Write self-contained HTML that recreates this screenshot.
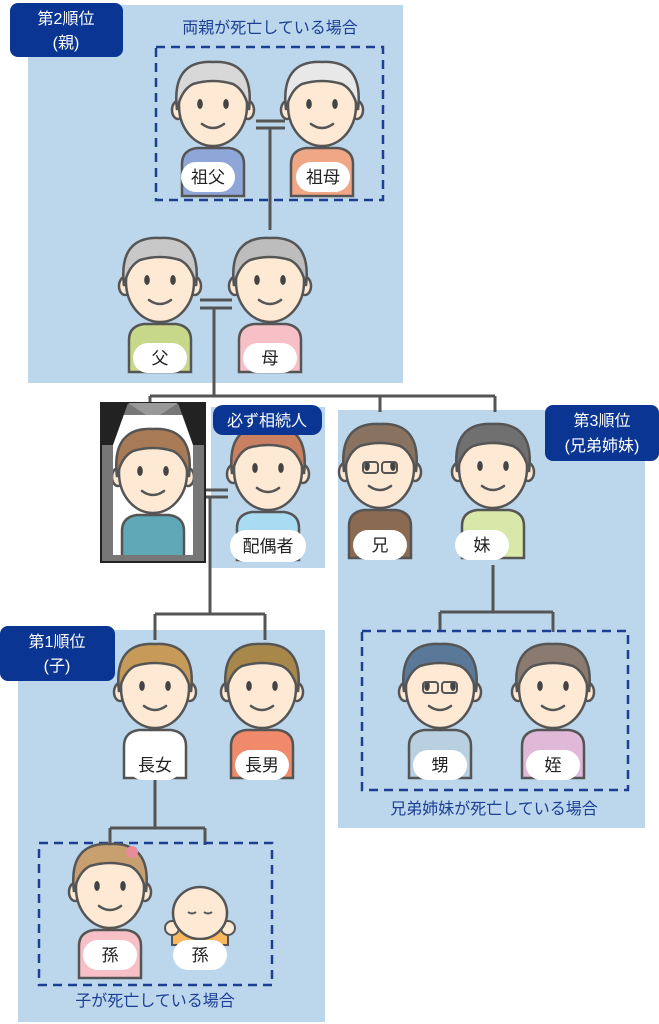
<!DOCTYPE html>
<html><head><meta charset="utf-8"><style>
html,body{margin:0;padding:0;background:#fff}
svg{display:block}
text{font-family:"Liberation Sans","Noto Sans CJK JP",sans-serif}
</style></head><body>
<svg width="659" height="1024" viewBox="0 0 659 1024" xmlns="http://www.w3.org/2000/svg">
<defs>
<symbol id="p" overflow="visible">
  <path d="M-31,90 L-31,58 Q-31,44 -16,42 L16,42 Q31,44 31,58 L31,90 Z" fill="var(--s)" stroke="#555" stroke-width="2.5"/>
  <ellipse cx="-35" cy="4" rx="6" ry="9" fill="#fde9d4" stroke="#555" stroke-width="2.5"/>
  <ellipse cx="35" cy="4" rx="6" ry="9" fill="#fde9d4" stroke="#555" stroke-width="2.5"/>
  <ellipse cx="0" cy="0" rx="34" ry="40" fill="#fde9d4" stroke="#555" stroke-width="2.5"/>
  <path d="M-36,4 Q-42,-46 0,-44 Q42,-46 36,4 Q32,-16 20,-22 Q0,-28 -20,-22 Q-32,-16 -36,4 Z" fill="currentColor" stroke="#555" stroke-width="2.5"/>
  <ellipse cx="-13" cy="-2" rx="2.8" ry="5" fill="#444"/>
  <ellipse cx="13" cy="-2" rx="2.8" ry="5" fill="#444"/>
  <path d="M-11,18 Q0,26 11,18" fill="none" stroke="#555" stroke-width="2.5" stroke-linecap="round"/>
</symbol>
<symbol id="lab" overflow="visible">
  <rect x="-27" y="-15" width="54" height="30" rx="15" fill="#fff"/>
</symbol>
</defs>

<rect x="28" y="5" width="375" height="378" fill="#bcd6ec"/>
<rect x="338" y="410" width="307" height="418" fill="#bcd6ec"/>
<rect x="18" y="630" width="307" height="392" fill="#bcd6ec"/>
<rect x="211" y="407" width="114" height="161" fill="#bcd6ec"/>

<g stroke="#555" stroke-width="3" fill="none">
  <path d="M256,121 H285 M256,128 H285"/>
  <path d="M270,128 V230"/>
  <path d="M200,300 H232 M200,308 H232"/>
  <path d="M214,308 V396 M150,396 H495 M150,396 V405 M380,396 V412 M495,396 V412"/>
  <path d="M205,490 H228 M205,497 H228"/>
  <path d="M210,497 V614 M155,614 H265 M155,614 V640 M265,614 V640"/>
  <path d="M493,565 V612 M440,612 H553 M440,612 V632 M553,612 V632"/>
  <path d="M155,780 V828 M110,828 H205 M110,828 V845 M205,828 V845"/>
</g>

<g stroke="#1c3f94" stroke-width="2.5" fill="none" stroke-dasharray="9,6">
  <rect x="156" y="47" width="227" height="153"/>
  <rect x="362" y="631" width="266" height="159"/>
  <rect x="39" y="843" width="233" height="142"/>
</g>

<rect x="101" y="403" width="104" height="159" fill="#777" stroke="#222" stroke-width="2"/>
<rect x="113" y="415" width="80" height="140" fill="#fff"/>
<path d="M101,403 L128,403 L113,445 L101,445 Z M205,403 L178,403 L193,445 L205,445 Z" fill="#222"/>
<path d="M128,403 L178,403 L160,415 L146,415 Z" fill="#999"/>

<use href="#p" x="213" y="106" style="--s:#8fa6d8;color:#d8d8d8"/>
<use href="#p" x="322" y="106" style="--s:#f0a785;color:#e8e8e8"/>
<use href="#p" x="160" y="282" style="--s:#c8d88a;color:#c8c8c8"/>
<use href="#p" x="270" y="282" style="--s:#f7c0c6;color:#bdbdbd"/>
<svg x="113" y="415" width="80" height="140" overflow="hidden"><use href="#p" x="40" y="58" style="--s:#5ea8b8;color:#a87a56"/></svg>
<use href="#p" x="268" y="470" style="--s:#a9dcf2;color:#c88060"/>
<use href="#p" x="380" y="468" style="--s:#8a6a50;color:#8a7260"/>
<use href="#p" x="493" y="468" style="--s:#d8e8a8;color:#707070"/>
<use href="#p" x="155" y="688" style="--s:#fff;color:#c89a5a"/>
<use href="#p" x="262" y="688" style="--s:#f08a6a;color:#a8884a"/>
<use href="#p" x="440" y="688" style="--s:#b8d0e0;color:#5a7898"/>
<use href="#p" x="553" y="688" style="--s:#e0b8d8;color:#8a7a70"/>
<use href="#p" x="110" y="888" style="--s:#f7c0c6;color:#c8a070"/>
<circle cx="132" cy="852" r="6" fill="#e88a9a"/>
<path d="M172,945 L172,935 Q200,915 228,935 L228,945 Z" fill="#f8b860" stroke="#555" stroke-width="2"/>
<circle cx="172" cy="928" r="7" fill="#fde9d4" stroke="#555" stroke-width="2"/>
<circle cx="228" cy="928" r="7" fill="#fde9d4" stroke="#555" stroke-width="2"/>
<ellipse cx="200" cy="913" rx="27" ry="26" fill="#fde9d4" stroke="#555" stroke-width="2.5"/>
<path d="M188,912 q4,3 8,0 M204,912 q4,3 8,0" stroke="#555" stroke-width="2" fill="none"/>

<g stroke="#555" stroke-width="2" fill="none">
  <rect x="363" y="462" width="15" height="11" rx="3"/><rect x="382" y="462" width="15" height="11" rx="3"/>
  <rect x="423" y="682" width="15" height="11" rx="3"/><rect x="442" y="682" width="15" height="11" rx="3"/>
</g>

<g>
<use href="#lab" x="208" y="177"/><use href="#lab" x="323" y="177"/>
<use href="#lab" x="160" y="358"/><use href="#lab" x="270" y="358"/>
<rect x="230" y="530" width="76" height="32" rx="16" fill="#fff"/>
<use href="#lab" x="380" y="545"/><use href="#lab" x="482" y="545"/>
<use href="#lab" x="155" y="765"/><use href="#lab" x="262" y="765"/>
<use href="#lab" x="440" y="765"/><use href="#lab" x="553" y="765"/>
<use href="#lab" x="110" y="955"/><use href="#lab" x="200" y="955"/>
</g>
<g font-size="17" fill="#222" text-anchor="middle">
<text x="208" y="183">祖父</text><text x="323" y="183">祖母</text>
<text x="160" y="364">父</text><text x="270" y="364">母</text>
<text x="268" y="552">配偶者</text>
<text x="380" y="551">兄</text><text x="482" y="551">妹</text>
<text x="155" y="771">長女</text><text x="262" y="771">長男</text>
<text x="440" y="771">甥</text><text x="553" y="771">姪</text>
<text x="110" y="961">孫</text><text x="200" y="961">孫</text>
</g>

<g font-size="16" fill="#1c3f94" text-anchor="middle">
<text x="270" y="33">両親が死亡している場合</text>
<text x="494" y="814">兄弟姉妹が死亡している場合</text>
<text x="155" y="1006">子が死亡している場合</text>
</g>

<rect x="10" y="3" width="113" height="54" rx="8" fill="#0a3592"/>
<rect x="545" y="405" width="114" height="56" rx="8" fill="#0a3592"/>
<rect x="0" y="626" width="115" height="55" rx="8" fill="#0a3592"/>
<rect x="213" y="405" width="109" height="30" rx="10" fill="#0a3592"/>
<g font-size="16" fill="#fff" text-anchor="middle">
<text x="66" y="24">第2順位</text><text x="66" y="48">(親)</text>
<text x="602" y="426">第3順位</text><text x="602" y="451">(兄弟姉妹)</text>
<text x="57" y="647">第1順位</text><text x="57" y="671">(子)</text>
<text x="267" y="426">必ず相続人</text>
</g>
</svg>
</body></html>
